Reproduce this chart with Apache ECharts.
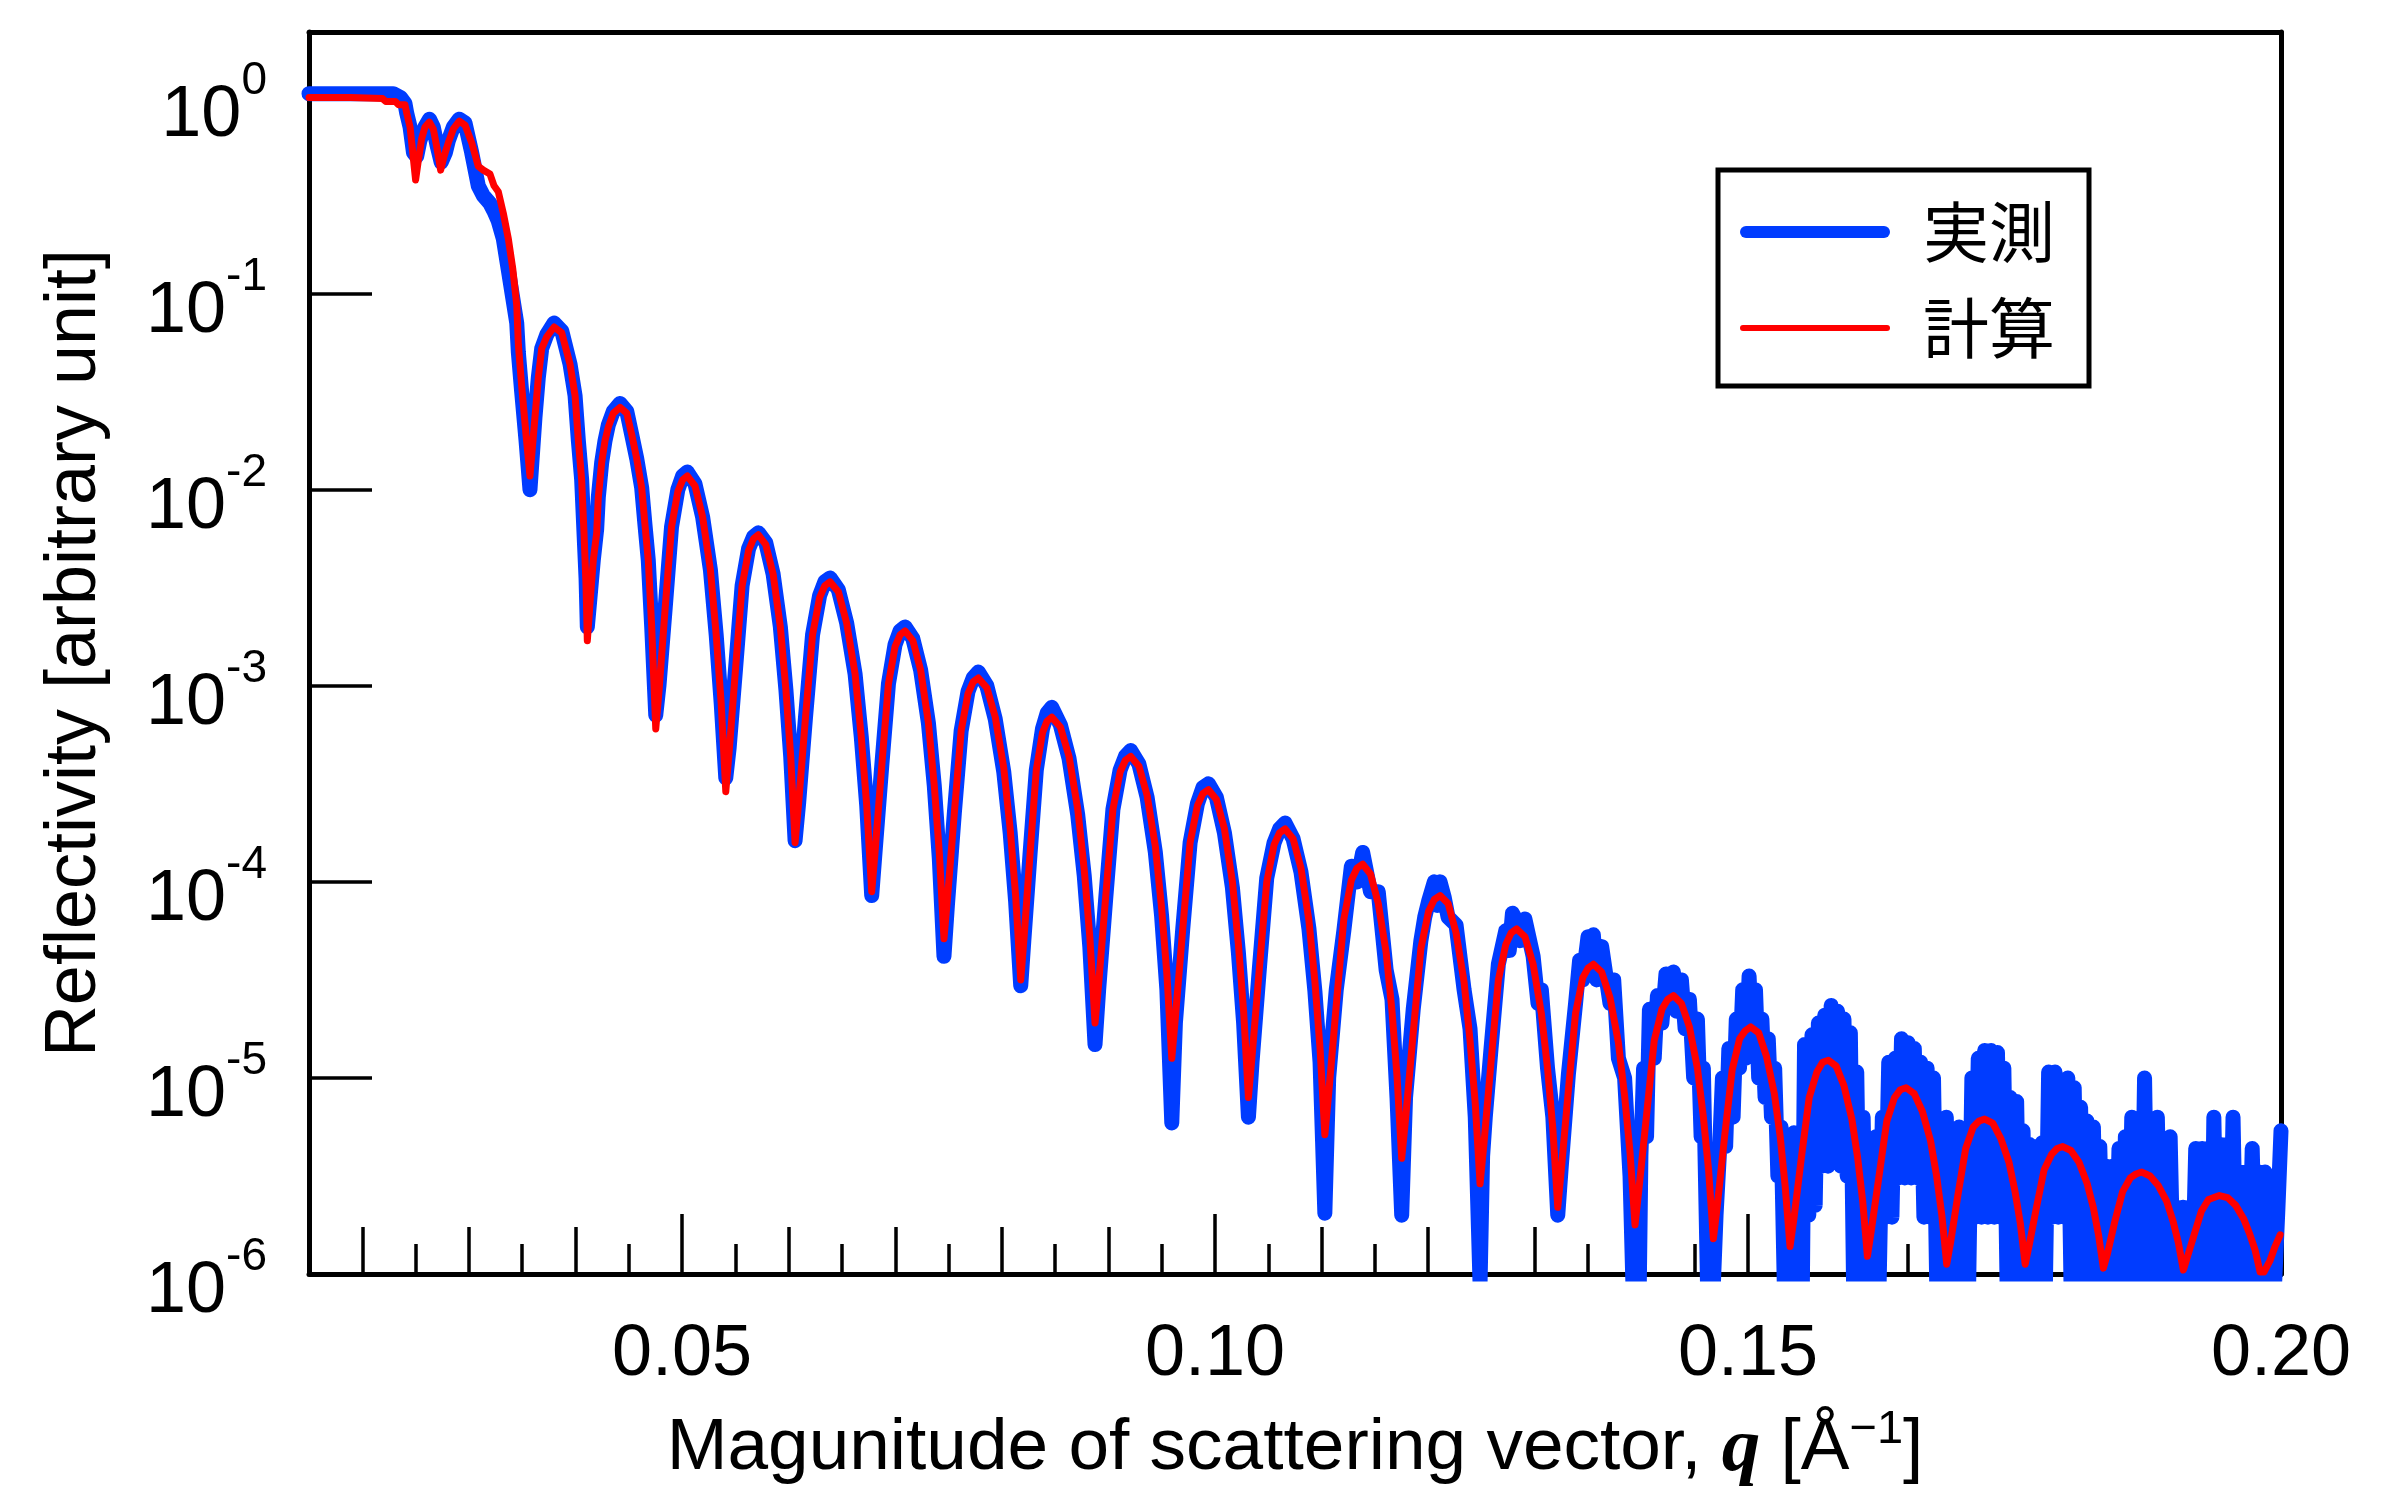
<!DOCTYPE html>
<html><head><meta charset="utf-8">
<script src="https://cdn.jsdelivr.net/npm/echarts@6/dist/echarts.min.js"></script>
<style>html,body{margin:0;padding:0;background:#fff}#c{width:2400px;height:1494px}</style>
</head><body><div id="c"></div>
<script>
const seriesNames = ['実測', '計算'];
const xLabelValues = [0.05, 0.10, 0.15, 0.20];
const xTicks01 = [0.02,0.03,0.04,0.06,0.07,0.08,0.09,0.11,0.12,0.13,0.14,0.16,0.17,0.18,0.19];
const xTicks005 = [0.025,0.035,0.045,0.055,0.065,0.075,0.085,0.095,0.105,0.115,0.125,0.135,0.145,0.155,0.165,0.175,0.185,0.195];
const yTickValues = [1e-6,1e-5,1e-4,1e-3,1e-2,1e-1,1];

// [q (1/Å), log10(reflectivity)]
const calculatedLog = [
[0.0150,0.0],[0.0189,0.0],[0.0190,-0.005],[0.0219,-0.005],[0.0222,-0.02],[0.0231,-0.02],[0.0234,-0.036],[0.0240,-0.036],[0.02417,-0.08],[0.02448,-0.15],[0.02473,-0.28],[0.0250,-0.42],[0.02526,-0.32],[0.02557,-0.21],[0.02588,-0.15],[0.02629,-0.125],[0.02666,-0.16],[0.02698,-0.25],[0.02735,-0.37],[0.02767,-0.30],[0.02807,-0.23],[0.02854,-0.16],[0.0291,-0.12],[0.02964,-0.14],[0.03026,-0.23],[0.03088,-0.35],[0.03135,-0.37],[0.03198,-0.39],[0.03236,-0.45],[0.03276,-0.48],[0.03323,-0.59],[0.0337,-0.72],[0.03411,-0.87],[0.03449,-1.06],[0.03464,-1.26],[0.03495,-1.47],[0.03536,-1.72],[0.03573,-1.93],
[0.0362,-1.63],[0.03651,-1.43],[0.03683,-1.28],[0.0373,-1.22],[0.03799,-1.17],[0.03871,-1.20],[0.03949,-1.36],[0.03996,-1.52],[0.04027,-1.75],[0.04058,-1.95],[0.0408,-2.22],[0.04099,-2.49],[0.04111,-2.77],
[0.04136,-2.58],[0.04167,-2.36],[0.04199,-2.22],[0.04214,-2.04],[0.04246,-1.86],[0.04277,-1.75],[0.04308,-1.68],[0.04355,-1.61],[0.04418,-1.58],[0.04481,-1.61],[0.04528,-1.72],[0.04574,-1.84],[0.04621,-1.99],[0.04652,-2.18],[0.04683,-2.36],[0.04715,-2.70],[0.04753,-3.22],
[0.04783,-3.03],[0.04842,-2.60],[0.04901,-2.19],[0.0496,-2.01],[0.05005,-1.95],[0.05049,-1.93],[0.05121,-1.98],[0.05193,-2.14],[0.05266,-2.41],[0.0532,-2.74],[0.05367,-3.09],[0.0541,-3.54],
[0.05441,-3.34],[0.05502,-2.91],[0.05563,-2.49],[0.05624,-2.31],[0.0567,-2.25],[0.05716,-2.23],[0.05785,-2.28],[0.05854,-2.43],[0.05922,-2.70],[0.05974,-3.02],[0.06019,-3.36],[0.0606,-3.80],
[0.06093,-3.60],[0.06158,-3.16],[0.06224,-2.74],[0.0629,-2.55],[0.06339,-2.49],[0.06388,-2.47],[0.06466,-2.52],[0.06544,-2.68],[0.06623,-2.94],[0.06681,-3.26],[0.06732,-3.61],[0.06779,-4.05],
[0.0681,-3.85],[0.06873,-3.41],[0.06936,-2.99],[0.06998,-2.80],[0.07045,-2.74],[0.07092,-2.72],[0.07165,-2.77],[0.07238,-2.92],[0.07311,-3.19],[0.07366,-3.51],[0.07413,-3.85],[0.07457,-4.29],
[0.07489,-4.09],[0.07554,-3.65],[0.07618,-3.23],[0.07682,-3.04],[0.07731,-2.98],[0.07779,-2.96],[0.07859,-3.01],[0.07938,-3.16],[0.08018,-3.42],[0.08078,-3.73],[0.08129,-4.07],[0.08177,-4.50],
[0.08206,-4.30],[0.08264,-3.86],[0.08323,-3.43],[0.08381,-3.24],[0.08424,-3.18],[0.08468,-3.16],[0.08549,-3.21],[0.0863,-3.36],[0.08712,-3.63],[0.08773,-3.94],[0.08825,-4.28],[0.08874,-4.72],
[0.08908,-4.52],[0.08975,-4.07],[0.09042,-3.63],[0.09109,-3.44],[0.09159,-3.38],[0.09209,-3.36],[0.09286,-3.41],[0.09363,-3.56],[0.0944,-3.82],[0.09498,-4.13],[0.09548,-4.47],[0.09594,-4.90],
[0.09628,-4.69],[0.09697,-4.24],[0.09766,-3.80],[0.09835,-3.61],[0.09886,-3.55],[0.09938,-3.53],[0.10013,-3.58],[0.10088,-3.73],[0.10163,-4.00],[0.10219,-4.32],[0.10268,-4.66],[0.10313,-5.10],
[0.10347,-4.89],[0.10416,-4.44],[0.10485,-4.00],[0.10554,-3.81],[0.10605,-3.75],[0.10657,-3.73],[0.10732,-3.78],[0.10806,-3.93],[0.10881,-4.20],[0.10937,-4.51],[0.10985,-4.85],[0.1103,-5.29],
[0.11066,-5.08],[0.11137,-4.63],[0.11208,-4.19],[0.11279,-3.99],[0.11332,-3.93],[0.11385,-3.91],[0.11458,-3.96],[0.11531,-4.11],[0.11605,-4.36],[0.1166,-4.66],[0.11707,-4.99],[0.11751,-5.41],
[0.11787,-5.21],[0.11859,-4.77],[0.11931,-4.34],[0.12003,-4.15],[0.12057,-4.09],[0.12111,-4.07],[0.12186,-4.11],[0.12261,-4.26],[0.12336,-4.51],[0.12392,-4.81],[0.12441,-5.13],[0.12486,-5.54],
[0.1252,-5.35],[0.12589,-4.92],[0.12658,-4.50],[0.12727,-4.32],[0.12778,-4.26],[0.1283,-4.24],[0.12907,-4.28],[0.12984,-4.42],[0.13061,-4.67],[0.13119,-4.95],[0.13169,-5.26],[0.13215,-5.66],
[0.13248,-5.47],[0.13315,-5.06],[0.13382,-4.67],[0.13449,-4.49],[0.13499,-4.44],[0.13549,-4.42],[0.13627,-4.46],[0.13705,-4.59],[0.13784,-4.82],[0.13842,-5.09],[0.13893,-5.38],[0.1394,-5.75],
[0.13976,-5.57],[0.14048,-5.19],[0.1412,-4.81],[0.14192,-4.65],[0.14246,-4.60],[0.143,-4.58],[0.14375,-4.62],[0.1445,-4.74],[0.14525,-4.95],[0.14581,-5.20],[0.1463,-5.47],[0.14675,-5.82],
[0.1471,-5.66],[0.1478,-5.30],[0.14851,-4.96],[0.14921,-4.80],[0.14973,-4.76],[0.15026,-4.74],[0.151,-4.77],[0.15173,-4.89],[0.15247,-5.08],[0.15302,-5.30],[0.15348,-5.55],[0.15394,-5.86],
[0.1543,-5.72],[0.15502,-5.40],[0.15574,-5.10],[0.15646,-4.97],[0.157,-4.92],[0.15754,-4.91],[0.15827,-4.94],[0.159,-5.04],[0.15974,-5.21],[0.16029,-5.41],[0.16076,-5.63],[0.1612,-5.91],
[0.16156,-5.78],[0.16229,-5.50],[0.16302,-5.22],[0.16374,-5.10],[0.16429,-5.06],[0.16483,-5.05],[0.16559,-5.08],[0.16635,-5.17],[0.16712,-5.32],[0.16769,-5.50],[0.16818,-5.70],[0.16864,-5.95],
[0.169,-5.84],[0.16971,-5.59],[0.17042,-5.36],[0.17113,-5.25],[0.17167,-5.22],[0.1722,-5.21],[0.17296,-5.23],[0.17372,-5.31],[0.17448,-5.43],[0.17505,-5.58],[0.17554,-5.74],[0.176,-5.95],
[0.17635,-5.86],[0.17706,-5.66],[0.17777,-5.47],[0.17847,-5.39],[0.179,-5.36],[0.17953,-5.35],[0.18029,-5.37],[0.18105,-5.43],[0.18182,-5.54],[0.18239,-5.66],[0.18288,-5.80],[0.18334,-5.97],
[0.1837,-5.90],[0.18442,-5.73],[0.18514,-5.58],[0.18586,-5.51],[0.1864,-5.49],[0.18694,-5.48],[0.18772,-5.50],[0.1885,-5.55],[0.18928,-5.63],[0.18987,-5.73],[0.19037,-5.84],[0.19084,-5.98],
[0.19118,-5.92],[0.19185,-5.80],[0.19253,-5.68],[0.1932,-5.62],[0.19371,-5.61],[0.19422,-5.60],[0.19498,-5.61],[0.19575,-5.65],[0.19651,-5.72],[0.19709,-5.80],[0.19758,-5.88],[0.19804,-5.99],[0.1984,-5.99],
[0.19898,-5.93],[0.19944,-5.86],[0.19992,-5.80]
];

const measuredLog = [
[0.0150,0.02],[0.0185,0.02],[0.0229,0.02],[0.0236,0.0],[0.0240,-0.03],[0.02417,-0.08],[0.02448,-0.15],[0.0248,-0.28],[0.0251,-0.30],[0.0254,-0.22],[0.02588,-0.15],[0.0263,-0.11],[0.02666,-0.15],[0.027,-0.24],[0.0274,-0.33],[0.0278,-0.28],[0.02807,-0.22],[0.02854,-0.15],[0.0291,-0.11],[0.02964,-0.13],[0.03026,-0.28],[0.03088,-0.45],[0.03135,-0.50],[0.03198,-0.54],[0.03236,-0.58],[0.03276,-0.63],[0.03323,-0.72],[0.0337,-0.88],[0.03411,-1.02],[0.03449,-1.15],[0.03464,-1.30],[0.03495,-1.50],[0.03536,-1.75],[0.03573,-2.00],
[0.0362,-1.63],[0.03651,-1.43],[0.03683,-1.28],[0.0373,-1.21],[0.03799,-1.15],[0.03871,-1.19],[0.03949,-1.36],[0.03996,-1.52],[0.04027,-1.75],[0.04058,-1.95],[0.0408,-2.22],[0.04099,-2.45],[0.04111,-2.70],
[0.04136,-2.55],[0.04167,-2.36],[0.04199,-2.20],[0.04214,-2.04],[0.04246,-1.86],[0.04277,-1.75],[0.04308,-1.67],[0.04355,-1.60],[0.04418,-1.56],[0.04481,-1.60],[0.04528,-1.72],[0.04574,-1.84],[0.04621,-1.99],[0.04652,-2.18],[0.04683,-2.36],[0.04715,-2.70],[0.04753,-3.15],
[0.04783,-3.00],[0.04842,-2.60],[0.04901,-2.19],[0.0496,-2.00],[0.05005,-1.93],[0.05049,-1.91],[0.05121,-1.97],[0.05193,-2.14],[0.05266,-2.41],[0.0532,-2.74],[0.05367,-3.09],[0.0541,-3.47],
[0.05441,-3.32],[0.05502,-2.91],[0.05563,-2.49],[0.05624,-2.30],[0.0567,-2.24],[0.05716,-2.22],[0.05785,-2.27],[0.05854,-2.43],[0.05922,-2.70],[0.05974,-3.02],[0.06019,-3.36],[0.0606,-3.79],
[0.06093,-3.60],[0.06158,-3.16],[0.06224,-2.74],[0.0629,-2.54],[0.06339,-2.47],[0.06388,-2.45],[0.06466,-2.51],[0.06544,-2.68],[0.06623,-2.94],[0.06681,-3.26],[0.06732,-3.61],[0.06779,-4.07],
[0.0681,-3.85],[0.06873,-3.41],[0.06936,-2.99],[0.06998,-2.79],[0.07045,-2.72],[0.07092,-2.70],[0.07165,-2.76],[0.07238,-2.92],[0.07311,-3.19],[0.07366,-3.51],[0.07413,-3.88],[0.07457,-4.38],
[0.07489,-4.12],[0.07554,-3.65],[0.07618,-3.23],[0.07682,-3.03],[0.07731,-2.96],[0.07779,-2.93],[0.07859,-3.00],[0.07938,-3.17],[0.08018,-3.44],[0.08078,-3.75],[0.08129,-4.10],[0.08177,-4.53],
[0.08206,-4.30],[0.08264,-3.86],[0.08323,-3.43],[0.08381,-3.22],[0.08424,-3.14],[0.08468,-3.11],[0.08549,-3.20],[0.0863,-3.37],[0.08712,-3.66],[0.08773,-3.97],[0.08825,-4.33],[0.08874,-4.83],
[0.08908,-4.55],[0.08975,-4.08],[0.09042,-3.63],[0.09109,-3.43],[0.09159,-3.36],[0.09209,-3.33],[0.09286,-3.40],[0.09363,-3.57],[0.0944,-3.85],[0.09498,-4.17],[0.09548,-4.55],[0.09594,-5.23],
[0.09628,-4.72],[0.09697,-4.24],[0.09766,-3.80],[0.09835,-3.60],[0.09886,-3.52],[0.09938,-3.50],[0.10013,-3.57],[0.10088,-3.75],[0.10163,-4.03],[0.10219,-4.36],[0.10268,-4.72],[0.10313,-5.20],
[0.10347,-4.92],[0.10416,-4.44],[0.10485,-3.98],[0.10554,-3.80],[0.10605,-3.73],[0.10657,-3.70],[0.10732,-3.78],[0.10806,-3.95],[0.10881,-4.24],[0.10937,-4.56],[0.10985,-4.92],[0.1103,-5.69],
[0.11066,-5.0],[0.11137,-4.55],[0.11208,-4.25],[0.11279,-3.92],[0.11332,-4.0],[0.11385,-3.85],[0.11458,-4.05],[0.11531,-4.05],[0.11605,-4.45],[0.1166,-4.6],[0.11707,-5.1],[0.11751,-5.70],
[0.11787,-5.1],[0.11859,-4.65],[0.11931,-4.30],[0.11967,-4.18],[0.12003,-4.10],[0.12057,-4.0],[0.12085,-4.12],[0.12111,-4.0],[0.1215,-4.08],[0.12186,-4.18],[0.12261,-4.22],[0.12336,-4.55],[0.12392,-4.75],[0.12441,-5.2],[0.12486,-6.05],
[0.1251,-5.40],[0.12535,-5.2],[0.12589,-4.85],[0.12658,-4.42],[0.12727,-4.25],[0.1276,-4.35],[0.1279,-4.16],[0.1283,-4.20],[0.1286,-4.30],[0.12907,-4.19],[0.12984,-4.38],[0.1303,-4.62],[0.13061,-4.55],[0.13119,-4.95],[0.13169,-5.2],[0.13215,-5.70],
[0.13248,-5.45],[0.13315,-4.98],[0.13382,-4.62],[0.1342,-4.40],[0.13449,-4.50],[0.13499,-4.28],[0.1353,-4.45],[0.13549,-4.27],[0.1358,-4.50],[0.13627,-4.33],[0.13705,-4.62],[0.1374,-4.50],[0.13784,-4.90],[0.13842,-5.0],[0.13893,-5.5],[0.1392,-6.05],[0.1396,-5.6],[0.1398,-6.05],
[0.13995,-5.40],[0.1402,-4.95],[0.14048,-5.30],[0.14075,-4.65],[0.1412,-4.90],[0.1415,-4.58],[0.14192,-4.72],[0.1423,-4.47],[0.1427,-4.62],[0.143,-4.46],[0.1433,-4.66],[0.14375,-4.50],[0.1441,-4.75],[0.1445,-4.60],[0.1449,-5.0],[0.14525,-4.70],[0.1456,-5.3],[0.14581,-4.95],[0.1462,-6.05],[0.1465,-5.6],[0.14675,-6.05],[0.147,-5.7],
[0.1473,-5.40],[0.1476,-5.0],[0.1479,-5.35],[0.1482,-4.85],[0.1486,-5.2],[0.1489,-4.70],[0.1492,-4.95],[0.1495,-4.55],[0.1498,-4.90],[0.1501,-4.48],[0.1504,-4.85],[0.1507,-4.55],[0.151,-5.0],[0.1513,-4.70],[0.1516,-5.1],[0.1519,-4.80],[0.1522,-5.2],[0.1525,-4.95],[0.1528,-5.5],[0.1531,-5.25],[0.1534,-6.05],[0.1537,-5.3],[0.154,-6.05],[0.1543,-5.28],[0.1546,-6.05],[0.1549,-5.3],[0.1551,-6.05],
[0.1553,-4.83],[0.1557,-5.70],[0.1560,-4.78],[0.1563,-5.65],[0.1566,-4.72],[0.1569,-5.45],[0.1572,-4.68],[0.1575,-5.45],[0.1578,-4.63],[0.1581,-5.40],[0.1584,-4.66],[0.1587,-5.45],[0.1590,-4.70],[0.1593,-5.50],[0.1596,-4.77],[0.1599,-6.05],
[0.1602,-4.97],[0.1605,-6.05],[0.1608,-5.20],[0.1611,-6.05],[0.1614,-5.46],[0.1617,-6.05],[0.1620,-5.30],[0.1623,-6.05],[0.1626,-5.20],[0.1629,-5.71],[0.1632,-4.92],[0.1635,-5.71],[0.1638,-4.90],[0.1641,-5.51],[0.1644,-4.80],[0.1647,-5.51],[0.1650,-4.82],[0.1653,-5.51],[0.1656,-4.85],[0.1659,-5.51],[0.1662,-4.92],[0.1665,-5.71],[0.1668,-4.95],[0.1671,-5.71],[0.1674,-5.0],[0.1677,-6.05],[0.1680,-5.48],[0.1683,-6.05],[0.1686,-5.20],[0.1689,-6.05],[0.1692,-5.30],[0.1695,-6.05],[0.1698,-5.25],
[0.1701,-6.05],[0.1704,-5.40],[0.1707,-6.05],[0.1710,-5.0],[0.1713,-5.71],[0.1716,-4.90],[0.1719,-5.71],[0.1722,-4.86],[0.1725,-5.71],[0.1728,-4.86],[0.1731,-5.71],[0.1734,-4.87],[0.1737,-5.71],[0.1740,-4.95],[0.1743,-6.05],[0.1746,-5.10],[0.1749,-6.05],[0.1752,-5.12],[0.1755,-6.05],[0.1758,-5.27],[0.1761,-6.05],[0.1764,-5.34],[0.1767,-6.05],[0.1770,-5.35],[0.1773,-6.05],[0.1776,-5.33],[0.1779,-6.05],[0.1782,-4.97],[0.1785,-5.71],[0.1788,-4.97],[0.1791,-5.71],[0.1794,-5.02],[0.1797,-5.71],
[0.1800,-5.0],[0.1803,-6.05],[0.1806,-5.05],[0.1809,-6.05],[0.1812,-5.15],[0.1815,-6.05],[0.1818,-5.22],[0.1821,-6.05],[0.1824,-5.25],[0.1827,-6.05],[0.1830,-5.35],[0.1833,-6.05],[0.1836,-5.45],[0.1839,-6.05],[0.1842,-5.45],[0.1845,-6.05],[0.1848,-5.36],[0.1851,-6.05],[0.1854,-5.30],[0.1857,-6.05],[0.1860,-5.20],[0.1863,-6.05],[0.1866,-5.25],[0.1869,-6.05],[0.1872,-5.0],[0.1875,-6.05],[0.1878,-5.30],[0.1881,-6.05],[0.1884,-5.2],[0.1887,-6.05],[0.1890,-5.34],[0.1893,-6.05],[0.1896,-5.30],[0.1899,-6.05],
[0.1902,-5.66],[0.1905,-6.05],[0.1908,-5.66],[0.1911,-6.05],[0.1914,-5.66],[0.1917,-6.05],[0.1920,-5.36],[0.1923,-6.05],[0.1926,-5.36],[0.1929,-6.05],[0.1932,-5.36],[0.1935,-6.05],[0.1937,-5.20],[0.1940,-6.05],[0.1943,-5.34],[0.1946,-6.05],[0.1949,-5.34],[0.1952,-6.05],[0.1955,-5.20],[0.1958,-6.05],[0.1961,-5.48],[0.1964,-6.05],[0.1967,-5.48],[0.1970,-6.05],[0.1973,-5.36],[0.1976,-6.05],[0.1979,-5.48],[0.1982,-6.05],[0.1985,-5.48],[0.1988,-6.05],[0.1991,-5.68],[0.1994,-6.05],[0.1997,-5.68],[0.2000,-5.27]
];

const FONT = "'Liberation Sans', Arial, Helvetica, sans-serif";
const SERIF = "'Liberation Serif', 'Times New Roman', serif";
const BLUE = '#003cff';
const RED = '#ff0000';
const toR = arr => arr.map(p => [p[0], Math.pow(10, p[1])]);

const chart = echarts.init(document.getElementById('c'), null, {renderer: 'canvas', width: 2400, height: 1494});

const xBase = {type: 'value', min: 0.015, max: 0.2, position: 'bottom', splitLine: {show: false}, minorTick: {show: false}};
const tickStyle = {color: '#000', width: 3.5};

const option = {
  animation: false,
  backgroundColor: '#fff',
  grid: {left: 309, right: 119, top: 32, bottom: 214, containLabel: false},
  legend: {
    left: 1718, top: 170, orient: 'vertical', selectedMode: false,
    itemWidth: 150, itemHeight: 24, itemGap: 16, symbolKeepAspect: true,
    padding: [22, 34, 18, 22],
    borderColor: '#000', borderWidth: 5, backgroundColor: '#fff',
    textStyle: {fontSize: 66, fontFamily: "'Noto Sans CJK JP', sans-serif", color: '#000', lineHeight: 80, padding: [0, 0, 0, 28]},
    data: [
      {name: seriesNames[0], icon: 'path://M6,0H144A6,6 0 0 1 144,12H6A6,6 0 0 1 6,0Z', itemStyle: {color: BLUE}},
      {name: seriesNames[1], icon: 'path://M3,0H147A3,3 0 0 1 147,6H3A3,3 0 0 1 3,0Z', itemStyle: {color: RED}}
    ]
  },
  xAxis: [
    Object.assign({}, xBase, {
      axisLine: {show: true, onZero: false, lineStyle: {color: '#000', width: 5}},
      axisTick: {show: true, inside: true, length: 60, lineStyle: tickStyle, customValues: xLabelValues},
      axisLabel: {show: true, customValues: xLabelValues, formatter: v => Number(v).toFixed(2), margin: 45, fontSize: 72, color: '#000', fontFamily: FONT},
      name: '{t|Magunitude of scattering vector, }{q|q}{t| [Å}{s|−1}{t|]}',
      nameLocation: 'middle', nameGap: 133,
      nameTextStyle: {
        rich: {
          t: {fontSize: 73, fontFamily: FONT, color: '#000', lineHeight: 70, padding: [5, 0, 0, 0], verticalAlign: 'top'},
          q: {fontSize: 77, fontFamily: SERIF, fontStyle: 'italic', fontWeight: 'bold', color: '#000', lineHeight: 70, padding: [5, 0, 0, 0], verticalAlign: 'top'},
          s: {fontSize: 47, fontFamily: FONT, color: '#000', lineHeight: 46, verticalAlign: 'top'}
        }
      }
    }),
    Object.assign({}, xBase, {
      axisLine: {show: false}, axisLabel: {show: false},
      axisTick: {show: true, inside: true, length: 47, lineStyle: tickStyle, customValues: xTicks01}
    }),
    Object.assign({}, xBase, {
      axisLine: {show: false}, axisLabel: {show: false},
      axisTick: {show: true, inside: true, length: 30, lineStyle: tickStyle, customValues: xTicks005}
    }),
    Object.assign({}, xBase, {
      position: 'top',
      axisLine: {show: true, onZero: false, lineStyle: {color: '#000', width: 5}},
      axisTick: {show: false}, axisLabel: {show: false}
    })
  ],
  yAxis: [
    {
      type: 'log', logBase: 10, min: 1e-6, max: 2.16, position: 'left',
      splitLine: {show: false}, minorTick: {show: false},
      axisLine: {show: true, onZero: false, lineStyle: {color: '#000', width: 5}},
      axisTick: {show: true, inside: true, length: 63, lineStyle: tickStyle, customValues: yTickValues},
      axisLabel: {
        show: true, customValues: yTickValues, margin: 42, padding: [0, 0, 28, 0],
        formatter: v => {
          const e = v > 0 ? Math.round(Math.log10(v)) : Math.round(v);
          return '{b|10}{s|' + e + '}';
        },
        rich: {
          b: {fontSize: 72, fontFamily: FONT, color: '#000', lineHeight: 71, padding: [32, 0, 0, 0], verticalAlign: 'top'},
          s: {fontSize: 46, fontFamily: FONT, color: '#000', lineHeight: 46, padding: [10, 0, 0, 0], verticalAlign: 'top'}
        }
      },
      name: 'Reflectivity [arbitrary unit]',
      nameLocation: 'middle', nameGap: 198, nameRotate: 90,
      nameTextStyle: {fontSize: 72, fontFamily: FONT, color: '#000'}
    },
    {
      type: 'log', logBase: 10, min: 1e-6, max: 2.16, position: 'right',
      splitLine: {show: false},
      axisLine: {show: true, onZero: false, lineStyle: {color: '#000', width: 5}},
      axisTick: {show: false}, axisLabel: {show: false}
    }
  ],
  series: [
    {
      name: seriesNames[0], type: 'line', xAxisIndex: 0, yAxisIndex: 0,
      data: toR(measuredLog), symbol: 'none', showSymbol: false, silent: true, clip: true, z: 2,
      lineStyle: {color: BLUE, width: 15, join: 'round', cap: 'round'},
      itemStyle: {color: BLUE}
    },
    {
      name: seriesNames[1], type: 'line', xAxisIndex: 0, yAxisIndex: 0,
      data: toR(calculatedLog), symbol: 'none', showSymbol: false, silent: true, clip: true, z: 3,
      lineStyle: {color: RED, width: 7, join: 'round', cap: 'round'},
      itemStyle: {color: RED}
    }
  ]
};
chart.setOption(option);
</script>
</body></html>
